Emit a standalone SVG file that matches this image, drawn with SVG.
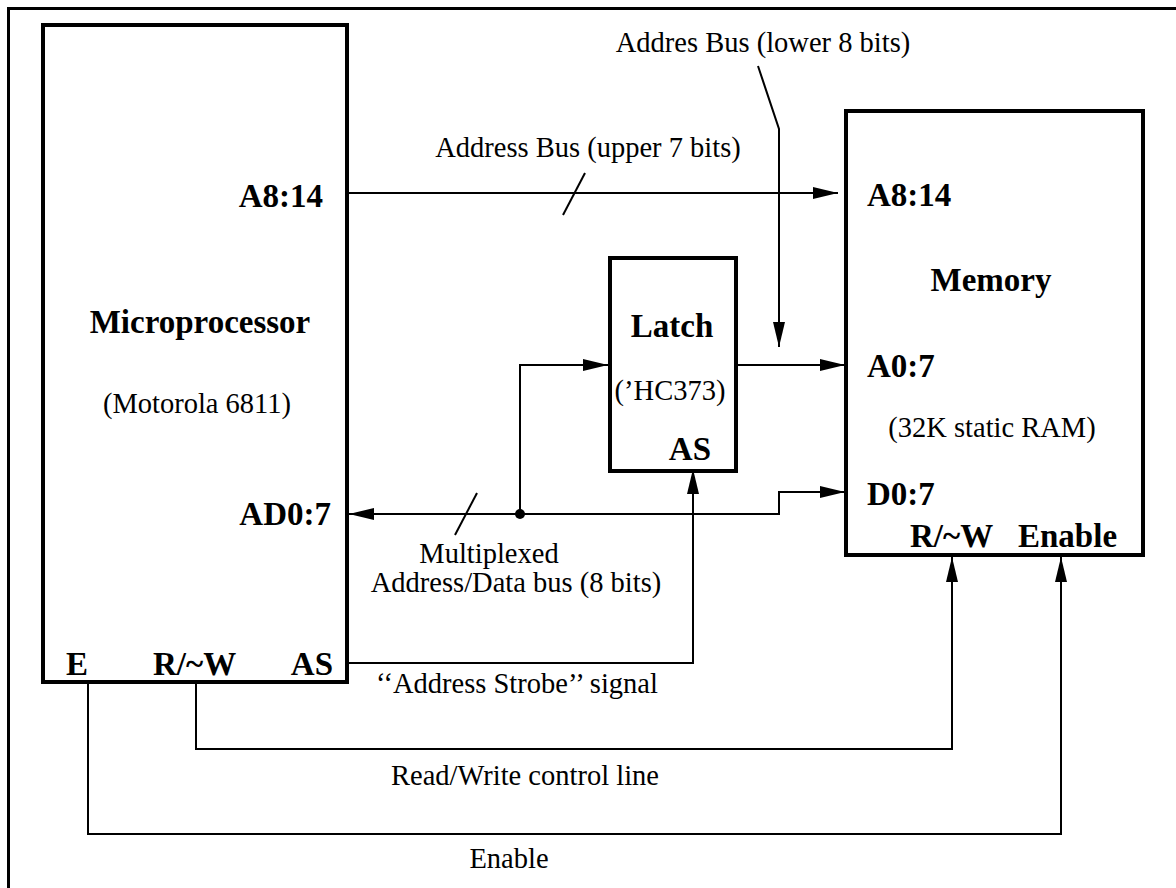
<svg xmlns="http://www.w3.org/2000/svg" width="1176" height="888" viewBox="0 0 1176 888">
<defs>
<style>
.box{fill:#fff;stroke:#000;stroke-width:4}
.frame{fill:none;stroke:#000;stroke-width:3}
.w{fill:none;stroke:#000;stroke-width:2}
.b{font-family:"Liberation Serif","Times New Roman",serif;font-weight:bold;font-size:33px;fill:#000}
.t{font-family:"Liberation Serif","Times New Roman",serif;font-size:28.5px;fill:#000}
</style>
<marker id="ah" markerUnits="userSpaceOnUse" viewBox="0 0 25 12" refX="25" refY="6" markerWidth="25" markerHeight="12" orient="auto">
<path d="M0,0 L25,6 L0,12 Z" fill="#000"/>
</marker>
</defs>
<rect width="1176" height="888" fill="#fff"/>
<rect class="frame" x="8.5" y="8.5" width="1180" height="900"/>

<g id="microprocessor">
<rect class="box" x="43" y="25" width="304" height="657"/>
<text class="b" x="200" y="333" text-anchor="middle">Microprocessor</text>
<text class="t" x="197" y="413" text-anchor="middle">(Motorola 6811)</text>
<text class="b" x="323" y="207" text-anchor="end">A8:14</text>
<text class="b" x="331" y="525" text-anchor="end">AD0:7</text>
<text class="b" x="66" y="675">E</text>
<text class="b" x="153" y="675">R/~W</text>
<text class="b" x="333" y="675" text-anchor="end">AS</text>
</g>

<g id="latch">
<rect class="box" x="610" y="258" width="126" height="213"/>
<text class="b" x="672" y="337" text-anchor="middle">Latch</text>
<text class="t" x="670" y="400" text-anchor="middle">(’HC373)</text>
<text class="b" x="711" y="460" text-anchor="end">AS</text>
</g>

<g id="memory">
<rect class="box" x="846" y="111" width="297" height="444"/>
<text class="b" x="867" y="206">A8:14</text>
<text class="b" x="991" y="291" text-anchor="middle">Memory</text>
<text class="b" x="867" y="377">A0:7</text>
<text class="t" x="992" y="437" text-anchor="middle">(32K static RAM)</text>
<text class="b" x="867" y="505">D0:7</text>
<text class="b" x="910" y="547">R/~W</text>
<text class="b" x="1018" y="547">Enable</text>
</g>

<g id="connectors">
<line class="w" x1="349" y1="193" x2="838" y2="193" marker-end="url(#ah)"/>
<line class="w" x1="563" y1="215" x2="585" y2="173"/>
<polyline class="w" points="758,66 779,129 779,347" marker-end="url(#ah)"/>
<line class="w" x1="736" y1="365" x2="845" y2="365" marker-end="url(#ah)"/>
<polyline class="w" points="520,514 520,365 608,365" marker-end="url(#ah)"/>
<polyline class="w" points="780,514 349,514" marker-end="url(#ah)"/>
<polyline class="w" points="779,514 779,492 845,492" marker-end="url(#ah)"/>
<circle cx="520" cy="514" r="5" fill="#000"/>
<line class="w" x1="455" y1="535" x2="477" y2="493"/>
<polyline class="w" points="347,663 693,663 693,469" marker-end="url(#ah)"/>
<polyline class="w" points="196,682 196,749 952,749 952,557" marker-end="url(#ah)"/>
<polyline class="w" points="88,682 88,834 1061,834 1061,557" marker-end="url(#ah)"/>
</g>

<g id="labels">
<text class="t" x="588" y="157" text-anchor="middle">Address Bus (upper 7 bits)</text>
<text class="t" x="763" y="52" text-anchor="middle">Addres Bus (lower 8 bits)</text>
<text class="t" x="489" y="563" text-anchor="middle">Multiplexed</text>
<text class="t" x="516" y="592" text-anchor="middle">Address/Data bus (8 bits)</text>
<text class="t" x="517" y="693" text-anchor="middle">‘‘Address Strobe’’ signal</text>
<text class="t" x="525" y="785" text-anchor="middle">Read/Write control line</text>
<text class="t" x="509" y="868" text-anchor="middle">Enable</text>
</g>
</svg>
